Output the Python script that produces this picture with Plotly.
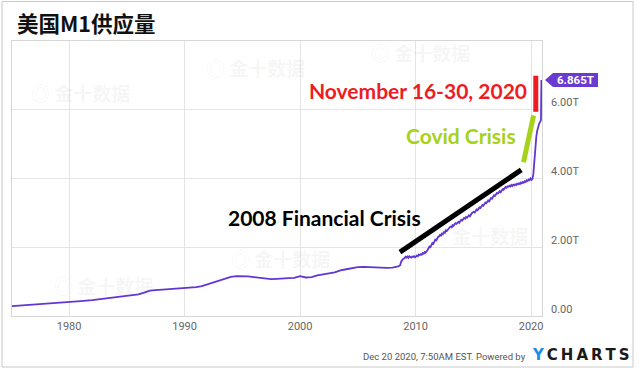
import plotly.graph_objects as go

# ---------------- data ----------------
early_dates = [
    "1975-01-22", "1976-01-01", "1977-01-01", "1978-01-01", "1979-01-01",
    "1980-01-01", "1981-01-01", "1982-01-01", "1983-01-01", "1984-01-01",
    "1985-01-01", "1985-07-01", "1986-01-01", "1986-07-01", "1987-01-01",
    "1987-07-01", "1988-01-01", "1988-07-01", "1989-01-01", "1989-07-01",
    "1990-01-01", "1990-07-01", "1991-01-01", "1991-07-01", "1992-01-01",
    "1992-07-01", "1993-01-01", "1993-07-01", "1994-01-01", "1994-07-01",
    "1995-01-01", "1995-07-01", "1996-01-01", "1996-07-01", "1997-01-01",
    "1997-07-01", "1998-01-01", "1998-07-01", "1999-01-01", "1999-07-01",
    "2000-01-01", "2000-07-01", "2001-01-01", "2001-07-01", "2002-01-01",
    "2002-07-01", "2003-01-01", "2003-07-01", "2004-01-01", "2004-07-01",
    "2005-01-01", "2005-07-01", "2006-01-01", "2006-07-01", "2007-01-01",
    "2007-07-01", "2008-01-01", "2008-07-01", "2008-09-01", "2008-10-01",
    "2008-12-01",
]
early_values = [
    0.29, 0.31, 0.33, 0.36, 0.39,
    0.41, 0.43, 0.46, 0.50, 0.54,
    0.57, 0.60, 0.63, 0.68, 0.74,
    0.75, 0.76, 0.78, 0.79, 0.79,
    0.81, 0.82, 0.84, 0.87, 0.92,
    0.98, 1.03, 1.09, 1.14, 1.16,
    1.16, 1.15, 1.13, 1.11, 1.09,
    1.07, 1.08, 1.08, 1.10, 1.11,
    1.16, 1.12, 1.13, 1.18, 1.22,
    1.24, 1.27, 1.33, 1.36, 1.40,
    1.42, 1.43, 1.42, 1.41, 1.40,
    1.40, 1.41, 1.44, 1.48, 1.58,
    1.66,
]

# monthly readings 2009-2019 (Jan..Dec for each year)
monthly_years = list(range(2009, 2020))
monthly_values = [
    [1.68, 1.72, 1.70, 1.73, 1.69, 1.74, 1.71, 1.70, 1.73, 1.72, 1.74, 1.71],
    [1.73, 1.76, 1.74, 1.79, 1.77, 1.80, 1.78, 1.83, 1.81, 1.86, 1.84, 1.90],
    [1.92, 1.97, 2.02, 2.00, 2.08, 2.12, 2.10, 2.18, 2.22, 2.20, 2.27, 2.30],
    [2.32, 2.36, 2.34, 2.40, 2.38, 2.44, 2.42, 2.49, 2.47, 2.52, 2.55, 2.58],
    [2.60, 2.58, 2.64, 2.62, 2.67, 2.70, 2.68, 2.72, 2.74, 2.71, 2.77, 2.80],
    [2.78, 2.82, 2.85, 2.83, 2.88, 2.86, 2.91, 2.93, 2.90, 2.96, 2.99, 3.01],
    [3.03, 3.01, 3.07, 3.10, 3.08, 3.13, 3.16, 3.14, 3.20, 3.23, 3.21, 3.28],
    [3.30, 3.28, 3.34, 3.36, 3.33, 3.40, 3.43, 3.41, 3.48, 3.51, 3.49, 3.55],
    [3.58, 3.56, 3.61, 3.63, 3.60, 3.66, 3.69, 3.67, 3.72, 3.75, 3.73, 3.77],
    [3.76, 3.79, 3.77, 3.81, 3.78, 3.82, 3.80, 3.83, 3.81, 3.85, 3.83, 3.86],
    [3.84, 3.88, 3.86, 3.90, 3.88, 3.92, 3.90, 3.95, 3.93, 3.97, 3.95, 4.00],
]

late_dates = [
    "2020-01-15", "2020-02-15", "2020-03-15", "2020-04-15", "2020-05-15",
    "2020-06-15", "2020-07-15", "2020-08-15", "2020-09-15", "2020-10-15",
    "2020-11-09", "2020-11-23",
]
late_values = [
    3.96, 3.99, 4.14, 4.62, 5.00,
    5.22, 5.40, 5.55, 5.60, 5.65,
    5.70, 6.865,
]

x_range = ["1975-01-22", "2020-12-12"]
y_range = [0, 8]
x_tick_years = [1980, 1990, 2000, 2010, 2020]
y_tick_values = [0, 2, 4, 6]
y_tick_labels = ["0.00", "2.00T", "4.00T", "6.00T"]

title_text = "美国M1供应量"

# hand-drawn call-out strokes: (start date, start value, end date, end value, colour)
callouts = [
    ("2008-08-25", 1.86, "2019-02-25", 4.25, "#000000"),
    ("2019-05-07", 4.47, "2020-03-20", 5.83, "#a6d21c"),
    ("2020-05-30", 6.99, "2020-05-30", 5.94, "#ed1c24"),
]

# ---------------- assemble series ----------------
dates = list(early_dates)
values = list(early_values)
for yr, row in zip(monthly_years, monthly_values):
    for m, v in enumerate(row, start=1):
        dates.append(f"{yr}-{m:02d}-15")
        values.append(v)
dates += late_dates
values += late_values

LINE = "#6236d2"

fig = go.Figure()
fig.add_trace(go.Scatter(
    x=dates, y=values, mode="lines",
    line=dict(color=LINE, width=1.8),
    hoverinfo="skip", showlegend=False,
))

# plot geometry (pixels)
W, H = 639, 370
L, R, T, B = 12, 97, 41, 54
PW, PH = W - L - R, H - T - B


def px_x(px):
    return (px - L) / PW


def px_y(py):
    return (H - B - py) / PH


shapes = []
# outer frame
shapes.append(dict(type="rect", xref="paper", yref="paper",
                   x0=px_x(2), x1=px_x(633), y0=px_y(367), y1=px_y(1.5),
                   line=dict(color="#c9c9c9", width=1), layer="below"))
for x0, y0, x1, y1, col in callouts:
    shapes.append(dict(type="line", xref="x", yref="y", x0=x0, y0=y0, x1=x1, y1=y1,
                       line=dict(color=col, width=5)))

# last-value tag (pointer shape)
last = values[-1]
tip, lft, rgt, hh = px_x(545), px_x(553), px_x(598), 0.205
shapes.append(dict(type="path", xref="paper", yref="y",
                   path=f"M {tip},{last} L {lft},{last + hh} L {rgt},{last + hh} "
                        f"L {rgt},{last - hh} L {lft},{last - hh} Z",
                   fillcolor="#6a3bd0", line=dict(width=0)))

annotations = []
# y tick labels (sit slightly above grid lines)
for v, t in zip(y_tick_values, y_tick_labels):
    annotations.append(dict(xref="paper", yref="y", x=px_x(549), y=v, yshift=7,
                            text=t, showarrow=False, xanchor="left", yanchor="middle",
                            font=dict(family="Roboto", size=11, color="#666666")))
annotations.append(dict(xref="paper", yref="y", x=(lft + rgt) / 2, y=last,
                        text=f"<b>{last:.3f}T</b>", showarrow=False,
                        xanchor="center", yanchor="middle",
                        font=dict(family="Roboto", size=11.5, color="white")))

# faint watermarks
for cx, cy in [(80, 92), (255, 68), (420, 52), (103, 285), (280, 258), (478, 235)]:
    annotations.append(dict(xref="paper", yref="paper", x=px_x(cx), y=px_y(cy),
                            text="<b>◎ 金十数据</b>", showarrow=False,
                            xanchor="center", yanchor="middle",
                            font=dict(family="Noto Sans CJK SC", size=19,
                                      color="rgba(120,120,120,0.075)")))

annotations += [
    dict(xref="paper", yref="paper", x=px_x(15), y=px_y(22), text=f"<b>{title_text}</b>",
         showarrow=False, xanchor="left", yanchor="middle",
         font=dict(family="Noto Sans CJK SC", size=21.5, color="#111111")),
    dict(xref="paper", yref="paper", x=px_x(418), y=px_y(90),
         text="<b>November 16-30, 2020</b>", showarrow=False,
         xanchor="center", yanchor="middle",
         font=dict(family="Lato", size=21, color="#ed1c24")),
    dict(xref="paper", yref="paper", x=px_x(461), y=px_y(135),
         text="<b>Covid Crisis</b>", showarrow=False,
         xanchor="center", yanchor="middle",
         font=dict(family="Lato", size=21, color="#a6d21c")),
    dict(xref="paper", yref="paper", x=px_x(324), y=px_y(218),
         text="<b>2008 Financial Crisis</b>", showarrow=False,
         xanchor="center", yanchor="middle",
         font=dict(family="Lato", size=21, color="#000000")),
    dict(xref="paper", yref="paper", x=px_x(528), y=px_y(356),
         text="Dec 20 2020, 7:50AM EST. Powered by", showarrow=False,
         xanchor="right", yanchor="middle",
         font=dict(family="Roboto", size=9.5, color="#555555")),
    dict(xref="paper", yref="paper", x=px_x(530), y=px_y(355),
         text="<b><span style='color:#1e8ee0'>Y</span>\u2009C\u2009H\u2009A\u2009R\u2009T\u2009S</b>",
         showarrow=False, xanchor="left", yanchor="middle",
         font=dict(family="DejaVu Sans", size=15, color="#1a1a1a")),
]

fig.update_layout(
    width=W, height=H,
    margin=dict(l=L, r=R, t=T, b=B, pad=0),
    paper_bgcolor="white", plot_bgcolor="white",
    shapes=shapes, annotations=annotations,
    xaxis=dict(type="date", range=x_range,
               tickvals=[f"{y}-01-01" for y in x_tick_years],
               ticktext=[str(y) for y in x_tick_years],
               showgrid=True, gridcolor="#e4e4e4", gridwidth=1,
               showline=True, linecolor="#d6d6d6", linewidth=1, mirror=True,
               ticks="", tickfont=dict(family="Roboto", size=11, color="#666666"),
               zeroline=False, fixedrange=True),
    yaxis=dict(range=y_range, tickvals=y_tick_values, showticklabels=False,
               showgrid=True, gridcolor="#e4e4e4", gridwidth=1,
               showline=True, linecolor="#d6d6d6", linewidth=1, mirror=True,
               zeroline=False, ticks="", fixedrange=True),
    showlegend=False,
)

fig.write_html("out.html",
               config={"displayModeBar": False},
               post_script="document.body.style.margin='0';document.body.style.padding='0';")
